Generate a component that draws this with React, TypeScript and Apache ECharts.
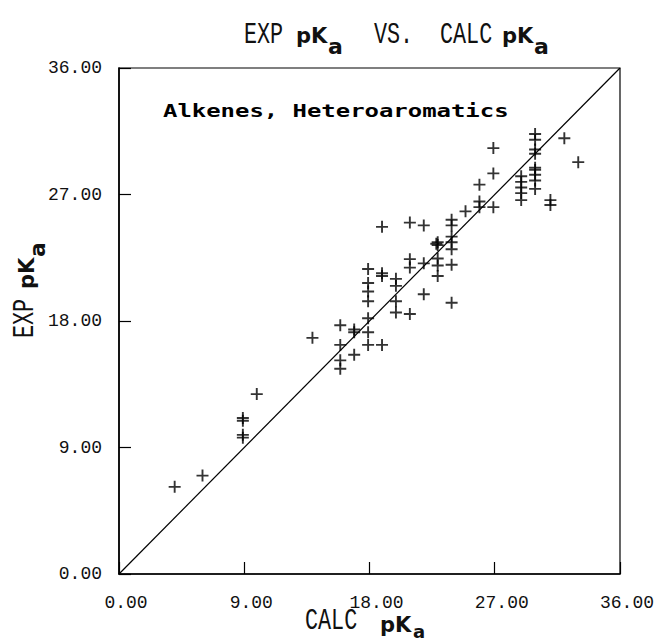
import React, { useEffect, useRef } from "react";
import * as echarts from "echarts";

// calculated pKa (x) and experimental pKa (y) of each plotted compound
const calcPKa = [
  4.0, 6.0, 8.9, 8.9, 8.9, 8.9, 9.9, 13.9,
  15.9, 15.9, 15.9, 15.9, 16.9, 16.9, 16.9,
  17.9, 17.9, 17.9, 17.9, 17.9, 17.9, 17.9,
  18.9, 18.9, 18.9, 18.9,
  19.9, 19.9, 19.9, 19.9,
  20.9, 20.9, 20.9, 20.9,
  21.9, 21.9, 21.9,
  22.9, 22.9, 22.8, 22.9, 22.9, 22.9,
  23.9, 23.9, 23.9, 23.9, 23.9, 23.9, 23.9,
  24.9, 25.9, 25.9, 25.9, 26.9, 26.9, 26.9,
  28.9, 28.9, 28.9, 28.9, 28.9,
  29.9, 29.9, 29.9, 29.9, 29.9, 29.9, 29.9, 29.9, 29.9,
  31.0, 31.0, 32.0, 33.0,
];
const expPKa = [
  6.2, 7.0, 11.1, 10.9, 9.9, 9.7, 12.8, 16.8,
  17.7, 16.3, 15.2, 14.6, 17.4, 17.2, 15.6,
  21.7, 20.7, 20.1, 19.4, 18.2, 17.2, 16.3,
  24.7, 21.4, 21.2, 16.3,
  21.0, 20.5, 19.4, 18.6,
  25.0, 22.4, 21.8, 18.5,
  24.8, 22.1, 19.9,
  23.4, 23.6, 23.5, 22.45, 21.95, 21.2,
  25.2, 24.8, 24.0, 23.6, 23.1, 22.0, 19.3,
  25.8, 27.7, 26.5, 26.1, 30.3, 28.5, 26.1,
  28.3, 27.9, 27.5, 27.1, 26.6,
  31.3, 30.9, 30.2, 29.9, 28.9, 28.75, 28.4, 28.0, 27.4,
  26.6, 26.25, 31.0, 29.3,
];
// the y = x reference line
const diagonalX = [0, 36];
const diagonalY = [0, 36];
const tickLabels = ["0.00", "9.00", "18.00", "27.00", "36.00"];
const panelLabel = "Alkenes, Heteroaromatics";

const THIN = "'Liberation Mono', 'DejaVu Sans Mono', monospace";
const BOLD = "'DejaVu Sans', sans-serif";

type Piece = { text: string; dx: number; dy: number; bold?: boolean; size?: number };

function textGroup(x: number, y: number, rotation: number, pieces: Piece[]) {
  return {
    type: "group",
    x,
    y,
    rotation,
    children: pieces.map((p) => ({
      type: "text",
      x: p.dx,
      y: p.dy,
      scaleX: p.bold ? 1 : 0.75,
      style: {
        text: p.text,
        fill: "#111",
        font: p.bold
          ? `bold ${p.size || 21}px ${BOLD}`
          : `normal ${p.size || 29}px ${THIN}`,
        align: "left",
        verticalAlign: "middle",
      },
    })),
  };
}

export default function App() {
  const ref = useRef<HTMLDivElement>(null);
  useEffect(() => {
    if (!ref.current) return;
    const chart = echarts.init(ref.current, undefined, { renderer: "svg" });
    const axisLabelStyle = {
      fontFamily: THIN,
      fontSize: 18,
      color: "#111",
    };
    chart.setOption({
      animation: false,
      backgroundColor: "#fff",
      grid: {
        left: 119,
        right: 31,
        top: 68,
        bottom: 67,
        show: true,
        borderColor: "#000",
        borderWidth: 1.2,
      },
      xAxis: {
        type: "value",
        min: 0,
        max: 36,
        interval: 9,
        axisLine: { show: true, onZero: false, lineStyle: { color: "#000", width: 1.6 } },
        axisTick: { show: true, inside: true, length: 12, lineStyle: { color: "#000", width: 1.2 } },
        splitLine: { show: false },
        axisLabel: {
          ...axisLabelStyle,
          margin: 20,
          padding: [0, 0, 0, 14],
          formatter: (_v: number, i: number) => tickLabels[i],
        },
      },
      yAxis: {
        type: "value",
        min: 0,
        max: 36,
        interval: 9,
        axisLine: { show: true, onZero: false, lineStyle: { color: "#000", width: 1.6 } },
        axisTick: { show: true, inside: true, length: 12, lineStyle: { color: "#000", width: 1.2 } },
        splitLine: { show: false },
        axisLabel: {
          ...axisLabelStyle,
          margin: 17,
          formatter: (_v: number, i: number) => tickLabels[i],
        },
      },
      series: [
        {
          type: "line",
          data: diagonalX.map((x, i) => [x, diagonalY[i]]),
          showSymbol: false,
          symbol: "none",
          silent: true,
          lineStyle: { color: "#000", width: 1.2 },
        },
        {
          type: "scatter",
          data: calcPKa.map((x, i) => [x, expPKa[i]]),
          symbol: "path://M5,0L5,10M0,5L10,5",
          symbolSize: 12,
          itemStyle: { color: "transparent", borderColor: "#000", borderWidth: 1.9 },
          silent: true,
        },
      ],
      graphic: [
        // title
        textGroup(0, 0, 0, [
          { text: "EXP", dx: 244, dy: 36 },
          { text: "pK", dx: 296, dy: 36, bold: true },
          { text: "a", dx: 328, dy: 46, bold: true, size: 22 },
          { text: "VS.", dx: 374, dy: 36 },
          { text: "CALC", dx: 440, dy: 36 },
          { text: "pK", dx: 502, dy: 36, bold: true },
          { text: "a", dx: 534, dy: 46, bold: true, size: 22 },
        ]),
        // x axis name
        textGroup(0, 0, 0, [
          { text: "CALC", dx: 305, dy: 622 },
          { text: "pK", dx: 380, dy: 625, bold: true },
          { text: "a", dx: 413, dy: 631, bold: true, size: 18 },
        ]),
        // y axis name (rotated)
        textGroup(26, 338, Math.PI / 2, [
          { text: "EXP", dx: 0, dy: 0 },
          { text: "pK", dx: 49, dy: 1, bold: true },
          { text: "a", dx: 81, dy: 11, bold: true, size: 22 },
        ]),
        // panel label
        {
          type: "text",
          x: 163,
          y: 111,
          scaleX: 1.33,
          style: {
            text: panelLabel,
            fill: "#000",
            font: "bold 18px 'DejaVu Sans Mono', monospace",
            align: "left",
            verticalAlign: "middle",
          },
        },
      ],
    });
    return () => chart.dispose();
  }, []);
  return (
    <div
      ref={ref}
      style={{ position: "absolute", left: 0, top: 0, width: 657, height: 641 }}
    />
  );
}
